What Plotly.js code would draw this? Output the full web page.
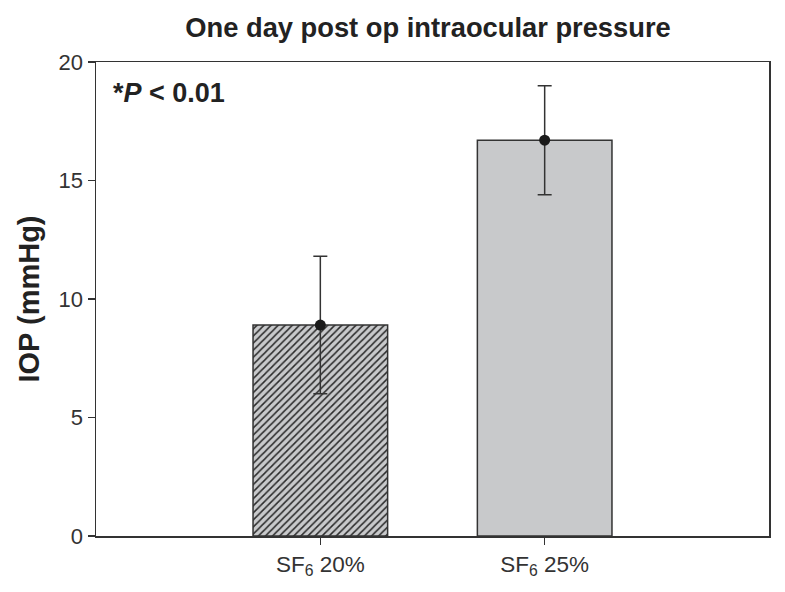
<!DOCTYPE html>
<html>
<head>
<meta charset="utf-8">
<script src="https://cdn.plot.ly/plotly-3.0.1.min.js"></script>
<style>html,body{margin:0;padding:0;background:#fff;}#chart{width:785px;height:592px;}</style>
</head>
<body>
<div id="chart"></div>
<script>
const categories = ["SF<sub>6</sub> 20%", "SF<sub>6</sub> 25%"];
const meanIOP = [8.9, 16.7];
const errPlus = [2.9, 2.3];
const errMinus = [2.9, 2.3];
const yTicks = [0, 5, 10, 15, 20];

const font = "Liberation Sans, Arial, sans-serif";

const hatched = {
  type: "bar",
  x: [categories[0]],
  y: [meanIOP[0]],
  width: 0.6,
  marker: {
    color: "#c8c9cb",
    line: {color: "#333333", width: 1.5},
    pattern: {shape: "/", fillmode: "overlay", fgcolor: "#2a2a2a", fgopacity: 1, size: 5, solidity: 0.3}
  },
  hoverinfo: "skip"
};

const plain = {
  type: "bar",
  x: [categories[1]],
  y: [meanIOP[1]],
  width: 0.6,
  marker: {color: "#c8c9cb", line: {color: "#333333", width: 1.5}},
  hoverinfo: "skip"
};

const points = {
  type: "scatter",
  mode: "markers",
  x: categories,
  y: meanIOP,
  marker: {color: "#1a1a1a", size: 11},
  error_y: {type: "data", symmetric: false, array: errPlus, arrayminus: errMinus, color: "#333333", thickness: 1.5, width: 7},
  hoverinfo: "skip"
};

const layout = {
  width: 785, height: 592,
  paper_bgcolor: "#ffffff", plot_bgcolor: "#ffffff",
  margin: {l: 96, r: 16, t: 62, b: 56},
  showlegend: false,
  barmode: "overlay",
  title: {text: "<b>One day post op intraocular pressure</b>", font: {family: font, size: 27.3, color: "#222222"}, xref: "container", x: 428/785, xanchor: "center", yref: "container", y: 1 - 27/592, yanchor: "middle"},
  xaxis: {
    type: "category", range: [-1, 2],
    showline: true, linecolor: "#333333", linewidth: 1.5, mirror: true,
    ticks: "outside", ticklen: 7, tickcolor: "#333333", tickwidth: 1.5,
    tickfont: {family: font, size: 22.5, color: "#333333"},
    showgrid: false, zeroline: false, fixedrange: true
  },
  yaxis: {
    range: [0, 20], tickvals: yTicks, ticktext: yTicks.map(String),
    showline: true, linecolor: "#333333", linewidth: 1.5, mirror: true,
    ticks: "outside", ticklen: 7, tickcolor: "#333333", tickwidth: 1.5,
    tickfont: {family: font, size: 22, color: "#333333"},
    showgrid: false, zeroline: false,
    title: {text: "<b>IOP (mmHg)</b>", font: {family: font, size: 29, color: "#222222"}, standoff: 10}
  },
  annotations: [{
    xref: "paper", yref: "paper", x: 0.022, y: 0.935, xanchor: "left", yanchor: "middle",
    text: "<b>*<i>P</i> < 0.01</b>", showarrow: false,
    font: {family: font, size: 27, color: "#222222"}
  }]
};

Plotly.newPlot("chart", [hatched, plain, points], layout, {displayModeBar: false, staticPlot: true});
</script>
</body>
</html>
